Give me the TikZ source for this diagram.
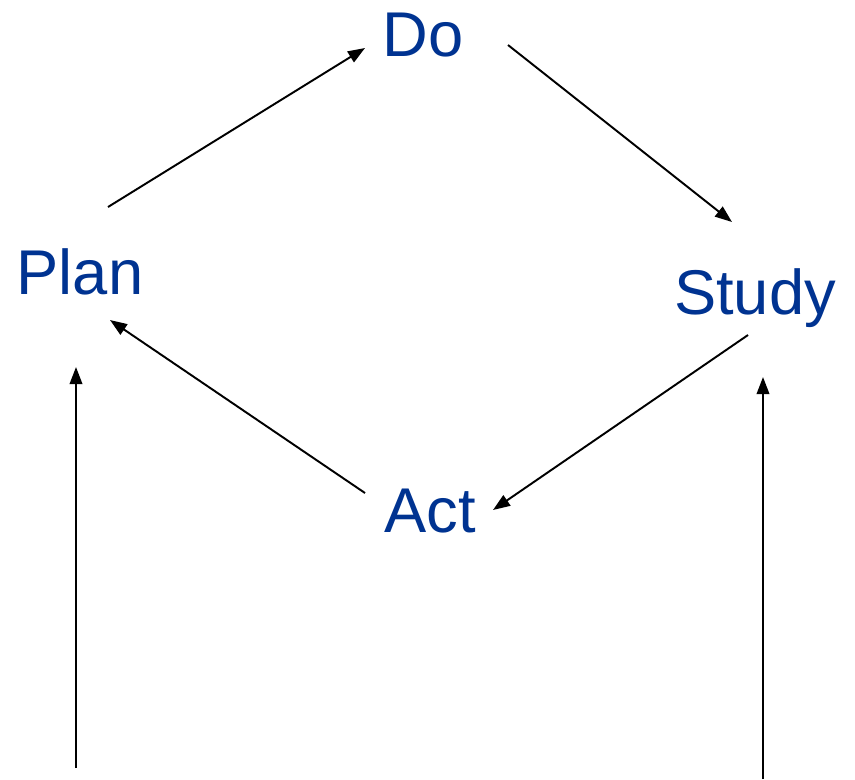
\documentclass[tikz,border=0pt]{standalone}
\usepackage{fontspec}
\setmainfont{Liberation Sans}
\usepackage{xcolor}
\usetikzlibrary{arrows.meta}
\definecolor{StepBlue}{RGB}{0,51,145}

\begin{document}
\begin{tikzpicture}[x=0.02cm, y=-0.02cm]
      \useasboundingbox (0,0) rectangle (855,779);

      \tikzset{phase/.style={text=StepBlue, font=\fontsize{36}{40}\selectfont,
            inner sep=0pt, anchor=base},
         cyc/.style={line width=1.1pt, -{Triangle[length=0.34cm, width=0.25cm]}}}

      \node (do) at (423,56) [phase] {Do};
      \node (plan) at (80,294) [phase] {Plan};
      \node (study) at (755,314) [phase] {Study};
      \node (act) at (430,532) [phase] {Act};

      \coordinate (planout) at (108,207);
      \coordinate (doin) at (365,48);
      \coordinate (doout) at (508,45);
      \coordinate (studyin) at (732,222);
      \coordinate (studyout) at (748,335);
      \coordinate (actin) at (493,510);
      \coordinate (actout) at (365,493);
      \coordinate (planin) at (110,320);
      \coordinate (leftfoot) at (76,768);
      \coordinate (lefttop) at (76,367);
      \coordinate (rightfoot) at (763,779);
      \coordinate (righttop) at (763,377);

      \draw [cyc] (planout) -- (doin);
      \draw [cyc] (doout) -- (studyin);
      \draw [cyc] (studyout) -- (actin);
      \draw [cyc] (actout) -- (planin);
      \draw [cyc] (leftfoot) -- (lefttop);
      \draw [cyc] (rightfoot) -- (righttop);
   \end{tikzpicture}
\end{document}
